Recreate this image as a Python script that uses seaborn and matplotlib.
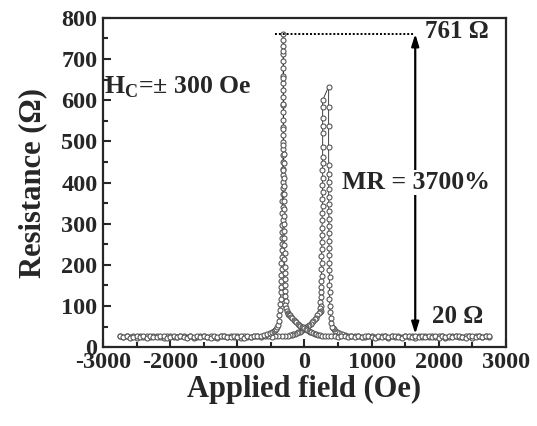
import numpy as np
import pandas as pd
import matplotlib
matplotlib.use('Agg')
import matplotlib.pyplot as plt
import seaborn as sns

# ---- data (field in Oe, resistance in Ohm) ----
# sweep "up": field from -2750 to +2750
up_left_field = np.arange(-2750, -650, 50)
up_left_res = [26, 24, 27, 23, 25, 28, 24,
               26, 22, 27, 25, 24, 28, 26,
               23, 25, 27, 24, 26, 25, 23,
               27, 25, 28, 24, 26, 25, 23,
               27, 24, 26, 28, 25, 24, 27,
               25, 26, 23, 28, 25, 27, 26]
up_mid_field = [-650, -600, -560, -520, -490, -460, -440, -420, -405]
up_mid_res = [28, 30, 31, 34, 36, 39, 41, 44, 48]
up_climb_field = [-395, -384, -376, -368, -360, -356, -350, -353, -344, -348,
                  -340, -345, -336, -341, -333, -338, -330, -335, -327, -332,
                  -325, -329, -322, -327, -320, -324, -319, -322, -318, -320]
up_climb_res = [55, 64, 78, 90, 104, 118, 133, 147, 160, 176,
                190, 205, 219, 236, 250, 265, 281, 296, 310, 327,
                341, 356, 372, 386, 401, 418, 433, 449, 466, 481]
up_top_field = [-317, -316, -316, -316, -316, -316, -316, -316,
                -316, -316, -316, -316, -316, -316, -316, -316]
up_top_res = [498, 516, 535, 552, 571, 588, 607, 624,
              642, 660, 678, 696, 713, 731, 746, 761]
up_fall_field = [-315, -315, -314, -314, -313, -312, -310, -314, -308, -312,
                 -305, -310, -303, -307, -300, -305, -298, -302, -295, -300,
                 -292, -297, -288, -294, -284, -290, -278, -285, -270, -262,
                 -252, -240, -228, -215]
up_fall_res = [720, 655, 590, 530, 492, 470, 448, 430, 410, 392,
               372, 355, 336, 318, 300, 282, 265, 248, 230, 214,
               196, 180, 165, 150, 136, 124, 112, 102, 94, 88,
               84, 81, 79, 77]
up_decay_field = [-200, -180, -160, -140, -120, -100, -80, -60, -40, -20,
                  0, 20, 40, 60, 80, 100, 125, 150, 175, 200,
                  230, 260, 300, 350, 400, 450, 500, 550, 600, 650]
up_decay_res = [74, 70, 66, 63, 60, 57, 55, 52, 50, 48,
                46, 44, 42, 40, 38, 36, 34, 32, 31, 30,
                29, 28, 27, 27, 26, 27, 25, 26, 27, 25]
up_right_field = np.arange(700, 2800, 50)
up_right_res = [27, 25, 26, 24, 28, 26, 25,
                23, 27, 25, 28, 24, 26, 27,
                25, 23, 26, 28, 24, 27, 25,
                26, 24, 28, 25, 27, 23, 26,
                25, 28, 24, 26, 27, 25, 23,
                27, 26, 24, 28, 25, 26, 27]

# sweep "down": field from +2750 to -2750
down_right_field = np.arange(2750, 650, -50)
down_right_res = [25, 27, 24, 26, 28, 23, 26,
                  27, 25, 24, 28, 26, 25, 23,
                  27, 26, 24, 28, 25, 27, 24,
                  26, 23, 27, 25, 28, 24, 26,
                  25, 27, 23, 26, 28, 24, 25,
                  27, 26, 24, 25, 28, 26, 27]
down_mid_field = [650, 600, 560, 520, 490, 460, 440, 425, 410]
down_mid_res = [28, 30, 32, 34, 37, 40, 43, 46, 50]
down_climb_field = [400, 392, 385, 378, 372, 375, 368, 373, 366, 371,
                    364, 369, 362, 367, 361, 366, 360, 364, 360, 363,
                    359, 362]
down_climb_res = [58, 70, 85, 100, 118, 135, 152, 170, 188, 205,
                  224, 240, 258, 277, 294, 312, 330, 348, 366, 384,
                  402, 420]
down_top_field = [361, 360, 360, 360, 360, 271, 271, 271, 271, 271, 271, 271, 271]
down_top_res = [443, 487, 538, 584, 633, 600, 584, 557, 538, 521, 487, 462, 447]
down_fall_field = [268, 274, 265, 272, 262, 270, 260, 267, 258, 265,
                   255, 262, 252, 259, 249, 256, 246, 252, 242, 248,
                   238, 244, 234, 240, 230]
down_fall_res = [430, 412, 395, 377, 360, 342, 325, 308, 290, 272,
                 256, 238, 222, 205, 190, 174, 160, 146, 133, 121,
                 110, 101, 94, 89, 86]
down_decay_field = [210, 190, 170, 150, 130, 110, 90, 70, 50, 30,
                    10, -10, -30, -50, -70, -90, -115, -140, -165, -190,
                    -220, -250, -290, -340, -390, -440, -490, -540, -590, -650]
down_decay_res = [82, 77, 72, 68, 64, 60, 57, 54, 51, 48,
                  46, 44, 42, 40, 38, 36, 34, 33, 31, 30,
                  29, 28, 27, 26, 27, 26, 25, 27, 26, 25]
down_left_field = np.arange(-700, -2800, -50)
down_left_res = [26, 28, 24, 25, 27, 23, 26,
                 25, 28, 24, 27, 26, 23, 25,
                 28, 24, 26, 27, 25, 23, 27,
                 24, 26, 28, 25, 24, 27, 26,
                 23, 25, 28, 26, 24, 27, 25,
                 26, 23, 27, 25, 28, 24, 26]

up_field = np.concatenate([up_left_field, up_mid_field, up_climb_field, up_top_field,
                           up_fall_field, up_decay_field, up_right_field])
up_res = np.concatenate([up_left_res, up_mid_res, up_climb_res, up_top_res,
                         up_fall_res, up_decay_res, up_right_res])
down_field = np.concatenate([down_right_field, down_mid_field, down_climb_field, down_top_field,
                             down_fall_field, down_decay_field, down_left_field])
down_res = np.concatenate([down_right_res, down_mid_res, down_climb_res, down_top_res,
                           down_fall_res, down_decay_res, down_left_res])

df = pd.concat([pd.DataFrame({'field': up_field, 'res': up_res, 'sweep': 'up'}),
                pd.DataFrame({'field': down_field, 'res': down_res, 'sweep': 'down'})],
               ignore_index=True)

r_max = 761
arrow_x = 1650

#%%
sns.set_style('ticks')
plt.rcParams['font.family'] = ['Liberation Serif', 'DejaVu Serif']
plt.rcParams['font.weight'] = 'bold'
plt.rcParams['axes.unicode_minus'] = False
plt.rcParams['mathtext.fontset'] = 'custom'
plt.rcParams['mathtext.rm'] = 'Liberation Serif:bold'
plt.rcParams['mathtext.bf'] = 'Liberation Serif:bold'

fig, ax = plt.subplots(figsize=(5.37, 4.26), dpi=100)
fig.subplots_adjust(left=0.192, right=0.942, bottom=0.185, top=0.958)

sns.lineplot(data=df, x='field', y='res', units='sweep', estimator=None, sort=False,
             color='#222222', lw=0.6, marker='o', markersize=3.6,
             markerfacecolor='white', markeredgecolor='#555555', markeredgewidth=0.8,
             ax=ax, legend=False)

ax.hlines(r_max, -440, arrow_x, colors='black', linestyles=(0, (1, 1)), lw=1.4)
ax.annotate('', xy=(arrow_x, r_max), xytext=(arrow_x, 32),
            arrowprops=dict(arrowstyle='<|-|>,head_length=0.7,head_width=0.22',
                            color='black', lw=1.6, shrinkA=0, shrinkB=0))

ax.text(1660, 400, 'MR = 3700%', fontsize=18.5, fontweight='bold', ha='center', va='center',
        bbox=dict(facecolor='white', edgecolor='none', pad=1))
ax.text(1800, 768, '761 Ω', fontsize=18, fontweight='bold', ha='left', va='center')
ax.text(1900, 75, '20 Ω', fontsize=18, fontweight='bold', ha='left', va='center')
ax.text(-2990, 632, r'H$_\mathregular{C}$=± 300 Oe', fontsize=18.5, fontweight='bold',
        ha='left', va='center')

ax.set_xlim(-3000, 3000)
ax.set_ylim(0, 800)
ax.set_xticks(np.arange(-3000, 3001, 1000))
ax.set_xticks(np.arange(-2500, 3000, 1000), minor=True)
ax.set_yticks(np.arange(0, 801, 100))
ax.set_yticks(np.arange(50, 800, 100), minor=True)
ax.tick_params(which='both', direction='in', width=1.5, labelsize=17.5)
ax.tick_params(axis='x', pad=3.5)
ax.tick_params(axis='y', pad=4)
ax.tick_params(which='major', length=6)
ax.tick_params(which='minor', length=3.5)
for lab in ax.get_xticklabels() + ax.get_yticklabels():
    lab.set_fontweight('bold')
for sp in ax.spines.values():
    sp.set_linewidth(1.6)
    sp.set_visible(True)

ax.set_xlabel('Applied field (Oe)', fontsize=22, fontweight='bold', labelpad=1)
ax.set_ylabel('Resistance (Ω)', fontsize=22, fontweight='bold', labelpad=10)

plt.savefig('out.png', dpi=100)
